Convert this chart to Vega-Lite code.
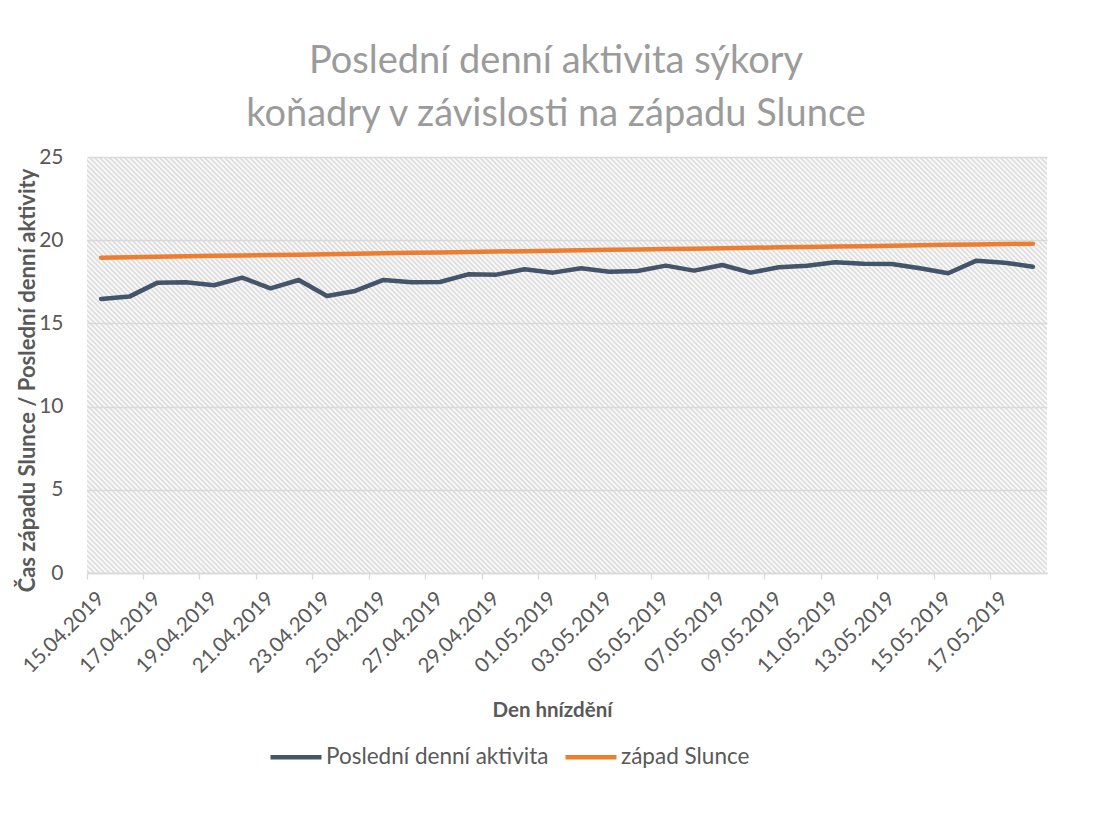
{
  "$schema": "https://vega.github.io/schema/vega-lite/v6.json",
  "width": 960,
  "height": 416,
  "autosize": {"type": "none"},
  "padding": {"left": 87, "top": 157, "right": 46, "bottom": 244},
  "background": "white",
  "title": {
    "text": ["Poslední denní aktivita sýkory", "koňadry v závislosti na západu Slunce"],
    "font": "Lato",
    "fontSize": 38,
    "fontWeight": "normal",
    "color": "#9b9b9b",
    "lineHeight": 53,
    "anchor": "middle",
    "frame": "group",
    "dx": -11,
    "offset": 12
  },
  "layer": [
    {
      "data": {"values": [{}]},
      "mark": {
        "type": "rect",
        "fill": {
          "gradient": "linear",
          "x1": 0, "y1": 1, "x2": 1.3716, "y2": 0.4057,
          "stops": [
{"offset":0,"color":"#fff"},{"offset":0.0016,"color":"#d8d8d8"},{"offset":0.0032,"color":"#fff"},{"offset":0.0048,"color":"#d8d8d8"},{"offset":0.0064,"color":"#fff"},{"offset":0.008,"color":"#d8d8d8"},{"offset":0.0096,"color":"#fff"},{"offset":0.0112,"color":"#d8d8d8"},{"offset":0.0128,"color":"#fff"},{"offset":0.0144,"color":"#d8d8d8"},
{"offset":0.016,"color":"#fff"},{"offset":0.0176,"color":"#d8d8d8"},{"offset":0.0192,"color":"#fff"},{"offset":0.0208,"color":"#d8d8d8"},{"offset":0.0224,"color":"#fff"},{"offset":0.024,"color":"#d8d8d8"},{"offset":0.0256,"color":"#fff"},{"offset":0.0272,"color":"#d8d8d8"},{"offset":0.0288,"color":"#fff"},{"offset":0.0304,"color":"#d8d8d8"},
{"offset":0.032,"color":"#fff"},{"offset":0.0336,"color":"#d8d8d8"},{"offset":0.0352,"color":"#fff"},{"offset":0.0368,"color":"#d8d8d8"},{"offset":0.0384,"color":"#fff"},{"offset":0.04,"color":"#d8d8d8"},{"offset":0.0416,"color":"#fff"},{"offset":0.0432,"color":"#d8d8d8"},{"offset":0.0448,"color":"#fff"},{"offset":0.0464,"color":"#d8d8d8"},
{"offset":0.048,"color":"#fff"},{"offset":0.0496,"color":"#d8d8d8"},{"offset":0.0512,"color":"#fff"},{"offset":0.0528,"color":"#d8d8d8"},{"offset":0.0544,"color":"#fff"},{"offset":0.056,"color":"#d8d8d8"},{"offset":0.0576,"color":"#fff"},{"offset":0.0592,"color":"#d8d8d8"},{"offset":0.0608,"color":"#fff"},{"offset":0.0624,"color":"#d8d8d8"},
{"offset":0.064,"color":"#fff"},{"offset":0.0656,"color":"#d8d8d8"},{"offset":0.0672,"color":"#fff"},{"offset":0.0688,"color":"#d8d8d8"},{"offset":0.0704,"color":"#fff"},{"offset":0.072,"color":"#d8d8d8"},{"offset":0.0736,"color":"#fff"},{"offset":0.0752,"color":"#d8d8d8"},{"offset":0.0768,"color":"#fff"},{"offset":0.0784,"color":"#d8d8d8"},
{"offset":0.08,"color":"#fff"},{"offset":0.0816,"color":"#d8d8d8"},{"offset":0.0832,"color":"#fff"},{"offset":0.0848,"color":"#d8d8d8"},{"offset":0.0864,"color":"#fff"},{"offset":0.088,"color":"#d8d8d8"},{"offset":0.0896,"color":"#fff"},{"offset":0.0912,"color":"#d8d8d8"},{"offset":0.0928,"color":"#fff"},{"offset":0.0944,"color":"#d8d8d8"},
{"offset":0.096,"color":"#fff"},{"offset":0.0976,"color":"#d8d8d8"},{"offset":0.0992,"color":"#fff"},{"offset":0.1008,"color":"#d8d8d8"},{"offset":0.1024,"color":"#fff"},{"offset":0.104,"color":"#d8d8d8"},{"offset":0.1056,"color":"#fff"},{"offset":0.1072,"color":"#d8d8d8"},{"offset":0.1088,"color":"#fff"},{"offset":0.1104,"color":"#d8d8d8"},
{"offset":0.112,"color":"#fff"},{"offset":0.1136,"color":"#d8d8d8"},{"offset":0.1152,"color":"#fff"},{"offset":0.1168,"color":"#d8d8d8"},{"offset":0.1184,"color":"#fff"},{"offset":0.12,"color":"#d8d8d8"},{"offset":0.1216,"color":"#fff"},{"offset":0.1232,"color":"#d8d8d8"},{"offset":0.1248,"color":"#fff"},{"offset":0.1264,"color":"#d8d8d8"},
{"offset":0.128,"color":"#fff"},{"offset":0.1296,"color":"#d8d8d8"},{"offset":0.1312,"color":"#fff"},{"offset":0.1328,"color":"#d8d8d8"},{"offset":0.1344,"color":"#fff"},{"offset":0.136,"color":"#d8d8d8"},{"offset":0.1376,"color":"#fff"},{"offset":0.1392,"color":"#d8d8d8"},{"offset":0.1408,"color":"#fff"},{"offset":0.1424,"color":"#d8d8d8"},
{"offset":0.144,"color":"#fff"},{"offset":0.1456,"color":"#d8d8d8"},{"offset":0.1472,"color":"#fff"},{"offset":0.1488,"color":"#d8d8d8"},{"offset":0.1504,"color":"#fff"},{"offset":0.152,"color":"#d8d8d8"},{"offset":0.1536,"color":"#fff"},{"offset":0.1552,"color":"#d8d8d8"},{"offset":0.1568,"color":"#fff"},{"offset":0.1584,"color":"#d8d8d8"},
{"offset":0.16,"color":"#fff"},{"offset":0.1616,"color":"#d8d8d8"},{"offset":0.1632,"color":"#fff"},{"offset":0.1648,"color":"#d8d8d8"},{"offset":0.1664,"color":"#fff"},{"offset":0.168,"color":"#d8d8d8"},{"offset":0.1696,"color":"#fff"},{"offset":0.1712,"color":"#d8d8d8"},{"offset":0.1728,"color":"#fff"},{"offset":0.1744,"color":"#d8d8d8"},
{"offset":0.176,"color":"#fff"},{"offset":0.1776,"color":"#d8d8d8"},{"offset":0.1792,"color":"#fff"},{"offset":0.1808,"color":"#d8d8d8"},{"offset":0.1824,"color":"#fff"},{"offset":0.184,"color":"#d8d8d8"},{"offset":0.1856,"color":"#fff"},{"offset":0.1872,"color":"#d8d8d8"},{"offset":0.1888,"color":"#fff"},{"offset":0.1904,"color":"#d8d8d8"},
{"offset":0.192,"color":"#fff"},{"offset":0.1936,"color":"#d8d8d8"},{"offset":0.1952,"color":"#fff"},{"offset":0.1968,"color":"#d8d8d8"},{"offset":0.1984,"color":"#fff"},{"offset":0.2,"color":"#d8d8d8"},{"offset":0.2016,"color":"#fff"},{"offset":0.2032,"color":"#d8d8d8"},{"offset":0.2048,"color":"#fff"},{"offset":0.2064,"color":"#d8d8d8"},
{"offset":0.208,"color":"#fff"},{"offset":0.2096,"color":"#d8d8d8"},{"offset":0.2112,"color":"#fff"},{"offset":0.2128,"color":"#d8d8d8"},{"offset":0.2144,"color":"#fff"},{"offset":0.216,"color":"#d8d8d8"},{"offset":0.2176,"color":"#fff"},{"offset":0.2192,"color":"#d8d8d8"},{"offset":0.2208,"color":"#fff"},{"offset":0.2224,"color":"#d8d8d8"},
{"offset":0.224,"color":"#fff"},{"offset":0.2256,"color":"#d8d8d8"},{"offset":0.2272,"color":"#fff"},{"offset":0.2288,"color":"#d8d8d8"},{"offset":0.2304,"color":"#fff"},{"offset":0.232,"color":"#d8d8d8"},{"offset":0.2336,"color":"#fff"},{"offset":0.2352,"color":"#d8d8d8"},{"offset":0.2368,"color":"#fff"},{"offset":0.2384,"color":"#d8d8d8"},
{"offset":0.24,"color":"#fff"},{"offset":0.2416,"color":"#d8d8d8"},{"offset":0.2432,"color":"#fff"},{"offset":0.2448,"color":"#d8d8d8"},{"offset":0.2464,"color":"#fff"},{"offset":0.248,"color":"#d8d8d8"},{"offset":0.2496,"color":"#fff"},{"offset":0.2512,"color":"#d8d8d8"},{"offset":0.2528,"color":"#fff"},{"offset":0.2544,"color":"#d8d8d8"},
{"offset":0.256,"color":"#fff"},{"offset":0.2576,"color":"#d8d8d8"},{"offset":0.2592,"color":"#fff"},{"offset":0.2608,"color":"#d8d8d8"},{"offset":0.2624,"color":"#fff"},{"offset":0.264,"color":"#d8d8d8"},{"offset":0.2656,"color":"#fff"},{"offset":0.2672,"color":"#d8d8d8"},{"offset":0.2688,"color":"#fff"},{"offset":0.2704,"color":"#d8d8d8"},
{"offset":0.272,"color":"#fff"},{"offset":0.2736,"color":"#d8d8d8"},{"offset":0.2752,"color":"#fff"},{"offset":0.2768,"color":"#d8d8d8"},{"offset":0.2784,"color":"#fff"},{"offset":0.28,"color":"#d8d8d8"},{"offset":0.2816,"color":"#fff"},{"offset":0.2832,"color":"#d8d8d8"},{"offset":0.2848,"color":"#fff"},{"offset":0.2864,"color":"#d8d8d8"},
{"offset":0.288,"color":"#fff"},{"offset":0.2896,"color":"#d8d8d8"},{"offset":0.2912,"color":"#fff"},{"offset":0.2928,"color":"#d8d8d8"},{"offset":0.2944,"color":"#fff"},{"offset":0.296,"color":"#d8d8d8"},{"offset":0.2976,"color":"#fff"},{"offset":0.2992,"color":"#d8d8d8"},{"offset":0.3008,"color":"#fff"},{"offset":0.3024,"color":"#d8d8d8"},
{"offset":0.304,"color":"#fff"},{"offset":0.3056,"color":"#d8d8d8"},{"offset":0.3072,"color":"#fff"},{"offset":0.3088,"color":"#d8d8d8"},{"offset":0.3104,"color":"#fff"},{"offset":0.312,"color":"#d8d8d8"},{"offset":0.3136,"color":"#fff"},{"offset":0.3152,"color":"#d8d8d8"},{"offset":0.3168,"color":"#fff"},{"offset":0.3184,"color":"#d8d8d8"},
{"offset":0.32,"color":"#fff"},{"offset":0.3216,"color":"#d8d8d8"},{"offset":0.3232,"color":"#fff"},{"offset":0.3248,"color":"#d8d8d8"},{"offset":0.3264,"color":"#fff"},{"offset":0.328,"color":"#d8d8d8"},{"offset":0.3296,"color":"#fff"},{"offset":0.3312,"color":"#d8d8d8"},{"offset":0.3328,"color":"#fff"},{"offset":0.3344,"color":"#d8d8d8"},
{"offset":0.336,"color":"#fff"},{"offset":0.3376,"color":"#d8d8d8"},{"offset":0.3392,"color":"#fff"},{"offset":0.3408,"color":"#d8d8d8"},{"offset":0.3424,"color":"#fff"},{"offset":0.344,"color":"#d8d8d8"},{"offset":0.3456,"color":"#fff"},{"offset":0.3472,"color":"#d8d8d8"},{"offset":0.3488,"color":"#fff"},{"offset":0.3504,"color":"#d8d8d8"},
{"offset":0.352,"color":"#fff"},{"offset":0.3536,"color":"#d8d8d8"},{"offset":0.3552,"color":"#fff"},{"offset":0.3568,"color":"#d8d8d8"},{"offset":0.3584,"color":"#fff"},{"offset":0.36,"color":"#d8d8d8"},{"offset":0.3616,"color":"#fff"},{"offset":0.3632,"color":"#d8d8d8"},{"offset":0.3648,"color":"#fff"},{"offset":0.3664,"color":"#d8d8d8"},
{"offset":0.368,"color":"#fff"},{"offset":0.3696,"color":"#d8d8d8"},{"offset":0.3712,"color":"#fff"},{"offset":0.3728,"color":"#d8d8d8"},{"offset":0.3744,"color":"#fff"},{"offset":0.376,"color":"#d8d8d8"},{"offset":0.3776,"color":"#fff"},{"offset":0.3792,"color":"#d8d8d8"},{"offset":0.3808,"color":"#fff"},{"offset":0.3824,"color":"#d8d8d8"},
{"offset":0.384,"color":"#fff"},{"offset":0.3856,"color":"#d8d8d8"},{"offset":0.3872,"color":"#fff"},{"offset":0.3888,"color":"#d8d8d8"},{"offset":0.3904,"color":"#fff"},{"offset":0.392,"color":"#d8d8d8"},{"offset":0.3936,"color":"#fff"},{"offset":0.3952,"color":"#d8d8d8"},{"offset":0.3968,"color":"#fff"},{"offset":0.3984,"color":"#d8d8d8"},
{"offset":0.4,"color":"#fff"},{"offset":0.4016,"color":"#d8d8d8"},{"offset":0.4032,"color":"#fff"},{"offset":0.4048,"color":"#d8d8d8"},{"offset":0.4064,"color":"#fff"},{"offset":0.408,"color":"#d8d8d8"},{"offset":0.4096,"color":"#fff"},{"offset":0.4112,"color":"#d8d8d8"},{"offset":0.4128,"color":"#fff"},{"offset":0.4144,"color":"#d8d8d8"},
{"offset":0.416,"color":"#fff"},{"offset":0.4176,"color":"#d8d8d8"},{"offset":0.4192,"color":"#fff"},{"offset":0.4208,"color":"#d8d8d8"},{"offset":0.4224,"color":"#fff"},{"offset":0.424,"color":"#d8d8d8"},{"offset":0.4256,"color":"#fff"},{"offset":0.4272,"color":"#d8d8d8"},{"offset":0.4288,"color":"#fff"},{"offset":0.4304,"color":"#d8d8d8"},
{"offset":0.432,"color":"#fff"},{"offset":0.4336,"color":"#d8d8d8"},{"offset":0.4352,"color":"#fff"},{"offset":0.4368,"color":"#d8d8d8"},{"offset":0.4384,"color":"#fff"},{"offset":0.44,"color":"#d8d8d8"},{"offset":0.4416,"color":"#fff"},{"offset":0.4432,"color":"#d8d8d8"},{"offset":0.4448,"color":"#fff"},{"offset":0.4464,"color":"#d8d8d8"},
{"offset":0.448,"color":"#fff"},{"offset":0.4496,"color":"#d8d8d8"},{"offset":0.4512,"color":"#fff"},{"offset":0.4528,"color":"#d8d8d8"},{"offset":0.4544,"color":"#fff"},{"offset":0.456,"color":"#d8d8d8"},{"offset":0.4576,"color":"#fff"},{"offset":0.4592,"color":"#d8d8d8"},{"offset":0.4608,"color":"#fff"},{"offset":0.4624,"color":"#d8d8d8"},
{"offset":0.464,"color":"#fff"},{"offset":0.4656,"color":"#d8d8d8"},{"offset":0.4672,"color":"#fff"},{"offset":0.4688,"color":"#d8d8d8"},{"offset":0.4704,"color":"#fff"},{"offset":0.472,"color":"#d8d8d8"},{"offset":0.4736,"color":"#fff"},{"offset":0.4752,"color":"#d8d8d8"},{"offset":0.4768,"color":"#fff"},{"offset":0.4784,"color":"#d8d8d8"},
{"offset":0.48,"color":"#fff"},{"offset":0.4816,"color":"#d8d8d8"},{"offset":0.4832,"color":"#fff"},{"offset":0.4848,"color":"#d8d8d8"},{"offset":0.4864,"color":"#fff"},{"offset":0.488,"color":"#d8d8d8"},{"offset":0.4896,"color":"#fff"},{"offset":0.4912,"color":"#d8d8d8"},{"offset":0.4928,"color":"#fff"},{"offset":0.4944,"color":"#d8d8d8"},
{"offset":0.496,"color":"#fff"},{"offset":0.4976,"color":"#d8d8d8"},{"offset":0.4992,"color":"#fff"},{"offset":0.5008,"color":"#d8d8d8"},{"offset":0.5024,"color":"#fff"},{"offset":0.504,"color":"#d8d8d8"},{"offset":0.5056,"color":"#fff"},{"offset":0.5072,"color":"#d8d8d8"},{"offset":0.5088,"color":"#fff"},{"offset":0.5104,"color":"#d8d8d8"},
{"offset":0.512,"color":"#fff"},{"offset":0.5136,"color":"#d8d8d8"},{"offset":0.5152,"color":"#fff"},{"offset":0.5168,"color":"#d8d8d8"},{"offset":0.5184,"color":"#fff"},{"offset":0.52,"color":"#d8d8d8"},{"offset":0.5216,"color":"#fff"},{"offset":0.5232,"color":"#d8d8d8"},{"offset":0.5248,"color":"#fff"},{"offset":0.5264,"color":"#d8d8d8"},
{"offset":0.528,"color":"#fff"},{"offset":0.5296,"color":"#d8d8d8"},{"offset":0.5312,"color":"#fff"},{"offset":0.5328,"color":"#d8d8d8"},{"offset":0.5344,"color":"#fff"},{"offset":0.536,"color":"#d8d8d8"},{"offset":0.5376,"color":"#fff"},{"offset":0.5392,"color":"#d8d8d8"},{"offset":0.5408,"color":"#fff"},{"offset":0.5424,"color":"#d8d8d8"},
{"offset":0.544,"color":"#fff"},{"offset":0.5456,"color":"#d8d8d8"},{"offset":0.5472,"color":"#fff"},{"offset":0.5488,"color":"#d8d8d8"},{"offset":0.5504,"color":"#fff"},{"offset":0.552,"color":"#d8d8d8"},{"offset":0.5536,"color":"#fff"},{"offset":0.5552,"color":"#d8d8d8"},{"offset":0.5568,"color":"#fff"},{"offset":0.5584,"color":"#d8d8d8"},
{"offset":0.56,"color":"#fff"},{"offset":0.5616,"color":"#d8d8d8"},{"offset":0.5632,"color":"#fff"},{"offset":0.5648,"color":"#d8d8d8"},{"offset":0.5664,"color":"#fff"},{"offset":0.568,"color":"#d8d8d8"},{"offset":0.5696,"color":"#fff"},{"offset":0.5712,"color":"#d8d8d8"},{"offset":0.5728,"color":"#fff"},{"offset":0.5744,"color":"#d8d8d8"},
{"offset":0.576,"color":"#fff"},{"offset":0.5776,"color":"#d8d8d8"},{"offset":0.5792,"color":"#fff"},{"offset":0.5808,"color":"#d8d8d8"},{"offset":0.5824,"color":"#fff"},{"offset":0.584,"color":"#d8d8d8"},{"offset":0.5856,"color":"#fff"},{"offset":0.5872,"color":"#d8d8d8"},{"offset":0.5888,"color":"#fff"},{"offset":0.5904,"color":"#d8d8d8"},
{"offset":0.592,"color":"#fff"},{"offset":0.5936,"color":"#d8d8d8"},{"offset":0.5952,"color":"#fff"},{"offset":0.5968,"color":"#d8d8d8"},{"offset":0.5984,"color":"#fff"},{"offset":0.6,"color":"#d8d8d8"},{"offset":0.6016,"color":"#fff"},{"offset":0.6032,"color":"#d8d8d8"},{"offset":0.6048,"color":"#fff"},{"offset":0.6064,"color":"#d8d8d8"},
{"offset":0.608,"color":"#fff"},{"offset":0.6096,"color":"#d8d8d8"},{"offset":0.6112,"color":"#fff"},{"offset":0.6128,"color":"#d8d8d8"},{"offset":0.6144,"color":"#fff"},{"offset":0.616,"color":"#d8d8d8"},{"offset":0.6176,"color":"#fff"},{"offset":0.6192,"color":"#d8d8d8"},{"offset":0.6208,"color":"#fff"},{"offset":0.6224,"color":"#d8d8d8"},
{"offset":0.624,"color":"#fff"},{"offset":0.6256,"color":"#d8d8d8"},{"offset":0.6272,"color":"#fff"},{"offset":0.6288,"color":"#d8d8d8"},{"offset":0.6304,"color":"#fff"},{"offset":0.632,"color":"#d8d8d8"},{"offset":0.6336,"color":"#fff"},{"offset":0.6352,"color":"#d8d8d8"},{"offset":0.6368,"color":"#fff"},{"offset":0.6384,"color":"#d8d8d8"},
{"offset":0.64,"color":"#fff"},{"offset":0.6416,"color":"#d8d8d8"},{"offset":0.6432,"color":"#fff"},{"offset":0.6448,"color":"#d8d8d8"},{"offset":0.6464,"color":"#fff"},{"offset":0.648,"color":"#d8d8d8"},{"offset":0.6496,"color":"#fff"},{"offset":0.6512,"color":"#d8d8d8"},{"offset":0.6528,"color":"#fff"},{"offset":0.6544,"color":"#d8d8d8"},
{"offset":0.656,"color":"#fff"},{"offset":0.6576,"color":"#d8d8d8"},{"offset":0.6592,"color":"#fff"},{"offset":0.6608,"color":"#d8d8d8"},{"offset":0.6624,"color":"#fff"},{"offset":0.664,"color":"#d8d8d8"},{"offset":0.6656,"color":"#fff"},{"offset":0.6672,"color":"#d8d8d8"},{"offset":0.6688,"color":"#fff"},{"offset":0.6704,"color":"#d8d8d8"},
{"offset":0.672,"color":"#fff"},{"offset":0.6736,"color":"#d8d8d8"},{"offset":0.6752,"color":"#fff"},{"offset":0.6768,"color":"#d8d8d8"},{"offset":0.6784,"color":"#fff"},{"offset":0.68,"color":"#d8d8d8"},{"offset":0.6816,"color":"#fff"},{"offset":0.6832,"color":"#d8d8d8"},{"offset":0.6848,"color":"#fff"},{"offset":0.6864,"color":"#d8d8d8"},
{"offset":0.688,"color":"#fff"},{"offset":0.6896,"color":"#d8d8d8"},{"offset":0.6912,"color":"#fff"},{"offset":0.6928,"color":"#d8d8d8"},{"offset":0.6944,"color":"#fff"},{"offset":0.696,"color":"#d8d8d8"},{"offset":0.6976,"color":"#fff"},{"offset":0.6992,"color":"#d8d8d8"},{"offset":0.7008,"color":"#fff"},{"offset":0.7024,"color":"#d8d8d8"},
{"offset":0.704,"color":"#fff"},{"offset":0.7056,"color":"#d8d8d8"},{"offset":0.7072,"color":"#fff"},{"offset":0.7088,"color":"#d8d8d8"},{"offset":0.7104,"color":"#fff"},{"offset":0.712,"color":"#d8d8d8"},{"offset":0.7136,"color":"#fff"},{"offset":0.7152,"color":"#d8d8d8"},{"offset":0.7168,"color":"#fff"},{"offset":0.7184,"color":"#d8d8d8"},
{"offset":0.72,"color":"#fff"},{"offset":0.7216,"color":"#d8d8d8"},{"offset":0.7232,"color":"#fff"},{"offset":0.7248,"color":"#d8d8d8"},{"offset":0.7264,"color":"#fff"},{"offset":0.728,"color":"#d8d8d8"},{"offset":0.7296,"color":"#fff"},{"offset":0.7312,"color":"#d8d8d8"},{"offset":0.7328,"color":"#fff"},{"offset":0.7344,"color":"#d8d8d8"},
{"offset":0.736,"color":"#fff"},{"offset":0.7376,"color":"#d8d8d8"},{"offset":0.7392,"color":"#fff"},{"offset":0.7408,"color":"#d8d8d8"},{"offset":0.7424,"color":"#fff"},{"offset":0.744,"color":"#d8d8d8"},{"offset":0.7456,"color":"#fff"},{"offset":0.7472,"color":"#d8d8d8"},{"offset":0.7488,"color":"#fff"},{"offset":0.7504,"color":"#d8d8d8"},
{"offset":0.752,"color":"#fff"},{"offset":0.7536,"color":"#d8d8d8"},{"offset":0.7552,"color":"#fff"},{"offset":0.7568,"color":"#d8d8d8"},{"offset":0.7584,"color":"#fff"},{"offset":0.76,"color":"#d8d8d8"},{"offset":0.7616,"color":"#fff"},{"offset":0.7632,"color":"#d8d8d8"},{"offset":0.7648,"color":"#fff"},{"offset":0.7664,"color":"#d8d8d8"},
{"offset":0.768,"color":"#fff"},{"offset":0.7696,"color":"#d8d8d8"},{"offset":0.7712,"color":"#fff"},{"offset":0.7728,"color":"#d8d8d8"},{"offset":0.7744,"color":"#fff"},{"offset":0.776,"color":"#d8d8d8"},{"offset":0.7776,"color":"#fff"},{"offset":0.7792,"color":"#d8d8d8"},{"offset":0.7808,"color":"#fff"},{"offset":0.7824,"color":"#d8d8d8"},
{"offset":0.784,"color":"#fff"},{"offset":0.7856,"color":"#d8d8d8"},{"offset":0.7872,"color":"#fff"},{"offset":0.7888,"color":"#d8d8d8"},{"offset":0.7904,"color":"#fff"},{"offset":0.792,"color":"#d8d8d8"},{"offset":0.7936,"color":"#fff"},{"offset":0.7952,"color":"#d8d8d8"},{"offset":0.7968,"color":"#fff"},{"offset":0.7984,"color":"#d8d8d8"},
{"offset":0.8,"color":"#fff"},{"offset":0.8016,"color":"#d8d8d8"},{"offset":0.8032,"color":"#fff"},{"offset":0.8048,"color":"#d8d8d8"},{"offset":0.8064,"color":"#fff"},{"offset":0.808,"color":"#d8d8d8"},{"offset":0.8096,"color":"#fff"},{"offset":0.8112,"color":"#d8d8d8"},{"offset":0.8128,"color":"#fff"},{"offset":0.8144,"color":"#d8d8d8"},
{"offset":0.816,"color":"#fff"},{"offset":0.8176,"color":"#d8d8d8"},{"offset":0.8192,"color":"#fff"},{"offset":0.8208,"color":"#d8d8d8"},{"offset":0.8224,"color":"#fff"},{"offset":0.824,"color":"#d8d8d8"},{"offset":0.8256,"color":"#fff"},{"offset":0.8272,"color":"#d8d8d8"},{"offset":0.8288,"color":"#fff"},{"offset":0.8304,"color":"#d8d8d8"},
{"offset":0.832,"color":"#fff"},{"offset":0.8336,"color":"#d8d8d8"},{"offset":0.8352,"color":"#fff"},{"offset":0.8368,"color":"#d8d8d8"},{"offset":0.8384,"color":"#fff"},{"offset":0.84,"color":"#d8d8d8"},{"offset":0.8416,"color":"#fff"},{"offset":0.8432,"color":"#d8d8d8"},{"offset":0.8448,"color":"#fff"},{"offset":0.8464,"color":"#d8d8d8"},
{"offset":0.848,"color":"#fff"},{"offset":0.8496,"color":"#d8d8d8"},{"offset":0.8512,"color":"#fff"},{"offset":0.8528,"color":"#d8d8d8"},{"offset":0.8544,"color":"#fff"},{"offset":0.856,"color":"#d8d8d8"},{"offset":0.8576,"color":"#fff"},{"offset":0.8592,"color":"#d8d8d8"},{"offset":0.8608,"color":"#fff"},{"offset":0.8624,"color":"#d8d8d8"},
{"offset":0.864,"color":"#fff"},{"offset":0.8656,"color":"#d8d8d8"},{"offset":0.8672,"color":"#fff"},{"offset":0.8688,"color":"#d8d8d8"},{"offset":0.8704,"color":"#fff"},{"offset":0.872,"color":"#d8d8d8"},{"offset":0.8736,"color":"#fff"},{"offset":0.8752,"color":"#d8d8d8"},{"offset":0.8768,"color":"#fff"},{"offset":0.8784,"color":"#d8d8d8"},
{"offset":0.88,"color":"#fff"},{"offset":0.8816,"color":"#d8d8d8"},{"offset":0.8832,"color":"#fff"}
          ]
        }
      }
    },
    {
      "data": {
        "values": [
          {"date": "15.04.2019", "Poslední denní aktivita": 16.47, "západ Slunce": 18.95},
          {"date": "16.04.2019", "Poslední denní aktivita": 16.61, "západ Slunce": 18.98},
          {"date": "17.04.2019", "Poslední denní aktivita": 17.45, "západ Slunce": 19.00},
          {"date": "18.04.2019", "Poslední denní aktivita": 17.47, "západ Slunce": 19.03},
          {"date": "19.04.2019", "Poslední denní aktivita": 17.29, "západ Slunce": 19.06},
          {"date": "20.04.2019", "Poslední denní aktivita": 17.75, "západ Slunce": 19.08},
          {"date": "21.04.2019", "Poslední denní aktivita": 17.11, "západ Slunce": 19.11},
          {"date": "22.04.2019", "Poslední denní aktivita": 17.61, "západ Slunce": 19.13},
          {"date": "23.04.2019", "Poslední denní aktivita": 16.65, "západ Slunce": 19.16},
          {"date": "24.04.2019", "Poslední denní aktivita": 16.95, "západ Slunce": 19.19},
          {"date": "25.04.2019", "Poslední denní aktivita": 17.61, "západ Slunce": 19.21},
          {"date": "26.04.2019", "Poslední denní aktivita": 17.47, "západ Slunce": 19.24},
          {"date": "27.04.2019", "Poslední denní aktivita": 17.49, "západ Slunce": 19.26},
          {"date": "28.04.2019", "Poslední denní aktivita": 17.95, "západ Slunce": 19.29},
          {"date": "29.04.2019", "Poslední denní aktivita": 17.93, "západ Slunce": 19.32},
          {"date": "30.04.2019", "Poslední denní aktivita": 18.25, "západ Slunce": 19.34},
          {"date": "01.05.2019", "Poslední denní aktivita": 18.05, "západ Slunce": 19.37},
          {"date": "02.05.2019", "Poslední denní aktivita": 18.31, "západ Slunce": 19.39},
          {"date": "03.05.2019", "Poslední denní aktivita": 18.11, "západ Slunce": 19.42},
          {"date": "04.05.2019", "Poslední denní aktivita": 18.15, "západ Slunce": 19.44},
          {"date": "05.05.2019", "Poslední denní aktivita": 18.47, "západ Slunce": 19.47},
          {"date": "06.05.2019", "Poslední denní aktivita": 18.17, "západ Slunce": 19.49},
          {"date": "07.05.2019", "Poslední denní aktivita": 18.51, "západ Slunce": 19.52},
          {"date": "08.05.2019", "Poslední denní aktivita": 18.05, "západ Slunce": 19.54},
          {"date": "09.05.2019", "Poslední denní aktivita": 18.37, "západ Slunce": 19.57},
          {"date": "10.05.2019", "Poslední denní aktivita": 18.47, "západ Slunce": 19.59},
          {"date": "11.05.2019", "Poslední denní aktivita": 18.67, "západ Slunce": 19.62},
          {"date": "12.05.2019", "Poslední denní aktivita": 18.59, "západ Slunce": 19.64},
          {"date": "13.05.2019", "Poslední denní aktivita": 18.57, "západ Slunce": 19.67},
          {"date": "14.05.2019", "Poslední denní aktivita": 18.31, "západ Slunce": 19.69},
          {"date": "15.05.2019", "Poslední denní aktivita": 18.01, "západ Slunce": 19.72},
          {"date": "16.05.2019", "Poslední denní aktivita": 18.77, "západ Slunce": 19.74},
          {"date": "17.05.2019", "Poslední denní aktivita": 18.65, "západ Slunce": 19.77},
          {"date": "18.05.2019", "Poslední denní aktivita": 18.41, "západ Slunce": 19.79}
        ]
      },
      "transform": [
        {"fold": ["Poslední denní aktivita", "západ Slunce"], "as": ["series", "value"]}
      ],
      "mark": {"type": "line", "strokeWidth": 4.5, "strokeCap": "round", "strokeJoin": "round"},
      "encoding": {
        "x": {
          "field": "date",
          "type": "ordinal",
          "sort": null,
          "scale": {"type": "band", "paddingInner": 0, "paddingOuter": 0},
          "axis": {
            "values": ["15.04.2019", "17.04.2019", "19.04.2019", "21.04.2019", "23.04.2019", "25.04.2019", "27.04.2019", "29.04.2019", "01.05.2019", "03.05.2019", "05.05.2019", "07.05.2019", "09.05.2019", "11.05.2019", "13.05.2019", "15.05.2019", "17.05.2019"],
            "bandPosition": 0,
            "labelOffset": -7,
            "labelAngle": -45,
            "labelFont": "Lato",
            "labelFontSize": 20.5,
            "labelColor": "#595959",
            "labelPadding": 9,
            "tickColor": "#d9d9d9",
            "tickSize": 6,
            "tickWidth": 1.3,
            "domainColor": "#d9d9d9",
            "domainWidth": 1.5,
            "grid": false,
            "zindex": 1,
            "title": "Den hnízdění",
            "titleFont": "Lato",
            "titleFontSize": 20.5,
            "titleFontWeight": "bold",
            "titleColor": "#595959",
            "titleX": 465,
            "titleY": 137,
            "titleBaseline": "middle"
          }
        },
        "y": {
          "field": "value",
          "type": "quantitative",
          "scale": {"domain": [0, 25]},
          "axis": {
            "values": [0, 5, 10, 15, 20, 25],
            "title": "Čas západu Slunce / Poslední denní aktivity",
            "titleFont": "Lato",
            "titleFontSize": 22,
            "titleFontWeight": "bold",
            "titleColor": "#595959",
            "titleAngle": -90,
            "titleX": -60,
            "titleY": 223,
            "titleBaseline": "middle",
            "labelFont": "Lato",
            "labelFontSize": 21,
            "labelColor": "#595959",
            "labelPadding": 24,
            "ticks": false,
            "domain": false,
            "grid": true,
            "gridColor": "#d9d9d9",
            "gridWidth": 1.3,
            "zindex": 1
          }
        },
        "color": {
          "field": "series",
          "type": "nominal",
          "scale": {"domain": ["Poslední denní aktivita", "západ Slunce"], "range": ["#44546a", "#ed7d31"]},
          "legend": {
            "orient": "none",
            "legendX": 181,
            "legendY": 572,
            "direction": "horizontal",
            "title": null,
            "padding": 0,
            "symbolType": "stroke",
            "symbolStrokeWidth": 4.5,
            "symbolSize": 2600,
            "labelFont": "Lato",
            "labelFontSize": 22.5,
            "labelColor": "#595959",
            "labelLimit": 400,
            "labelOffset": 2,
            "columnPadding": 7
          }
        }
      }
    }
  ],
  "config": {
    "font": "Lato",
    "view": {"stroke": null}
  }
}
